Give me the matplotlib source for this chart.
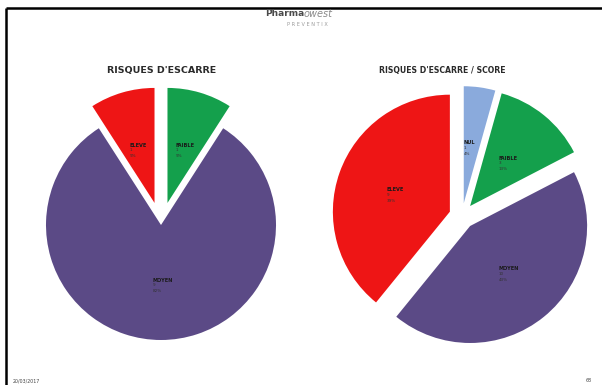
import matplotlib
matplotlib.use('Agg')
import matplotlib.pyplot as plt
import numpy as np

W, H = 602, 385

# data
left_title = "RISQUES D'ESCARRE"
left_labels = ['FAIBLE', 'MOYEN', 'ELEVE']
left_counts = [1, 9, 1]
left_colors = ['#14a04c', '#5b4a86', '#ee1515']
left_explode = [0.2, 0.0, 0.2]

right_title = "RISQUES D'ESCARRE / SCORE"
right_labels = ['NUL', 'FAIBLE', 'MOYEN', 'ELEVE']
right_counts = [1, 3, 10, 9]
right_colors = ['#8aaadc', '#14a04c', '#5b4a86', '#ee1515']
right_explode = [0.11, 0.11, 0.11, 0.11]

footer_date = '20/03/2017'
footer_page = '68'


def Y(y):
    """ slide pixel row -> axes y """
    return H - y


def draw_pie(ax, counts, labels, colors, explode, cx, cy, r):
    # pie() takes the explode offset in data units, so scale it by the radius
    offsets = [e * r for e in explode]
    wedges, _ = ax.pie(counts, colors=colors, explode=offsets, startangle=90,
                       counterclock=False, center=(cx, Y(cy)), radius=r,
                       frame=True, wedgeprops=dict(linewidth=0))
    total = float(sum(counts))
    for w, lab, n in zip(wedges, labels, counts):
        mid = np.deg2rad((w.theta1 + w.theta2) / 2.0)
        x = w.center[0] + 0.5 * w.r * np.cos(mid)
        y = w.center[1] + 0.5 * w.r * np.sin(mid)
        ax.annotate(lab, (x, y), xytext=(-6, 0), textcoords='offset points',
                    ha='left', va='bottom', fontsize=3.6, fontweight='bold',
                    color='#1a1a1a')
        ax.annotate('%d\n%d%%' % (n, round(100 * n / total)), (x, y),
                    xytext=(-6, -0.5), textcoords='offset points',
                    ha='left', va='top', fontsize=3, color='#333333',
                    linespacing=1.6)


fig = plt.figure(figsize=(W / 100, H / 100), dpi=100)
ax = fig.add_axes([0, 0, 1, 1])

draw_pie(ax, left_counts, left_labels, left_colors, left_explode, 161, 225, 115)
draw_pie(ax, right_counts, right_labels, right_colors, right_explode, 462, 216, 117)

ax.set_xlim(0, W)
ax.set_ylim(0, H)
ax.set_aspect('auto')
ax.axis('off')

# slide frame (top and left edges)
ax.plot([6, W], [Y(8), Y(8)], color='black', lw=1.8, solid_capstyle='butt')
ax.plot([6, 6], [Y(8), 0], color='black', lw=1.8, solid_capstyle='butt')

# titles
ax.text(162, Y(71), left_title, ha='center', va='center', fontsize=6.8,
        fontweight='bold', color='#2a2a2a')
ax.text(442, Y(71), right_title, ha='center', va='center', fontsize=5.6,
        fontweight='bold', color='#2a2a2a')

# logo
ax.text(304, Y(14), 'Pharma', ha='right', va='center', fontsize=6.5,
        fontweight='bold', color='#4a4a4a')
ax.text(304, Y(14), 'owest', ha='left', va='center', fontsize=7,
        style='italic', color='#8a8a8a')
ax.text(307, Y(24), 'P R E V E N T I X', ha='center', va='center',
        fontsize=3.6, color='#9a9a9a')

# footer
ax.text(13, Y(381), footer_date, ha='left', va='center', fontsize=3.4,
        color='#444444')
ax.text(592, Y(381), footer_page, ha='right', va='center', fontsize=3.4,
        color='#444444')

fig.savefig('out.png', dpi=100)
